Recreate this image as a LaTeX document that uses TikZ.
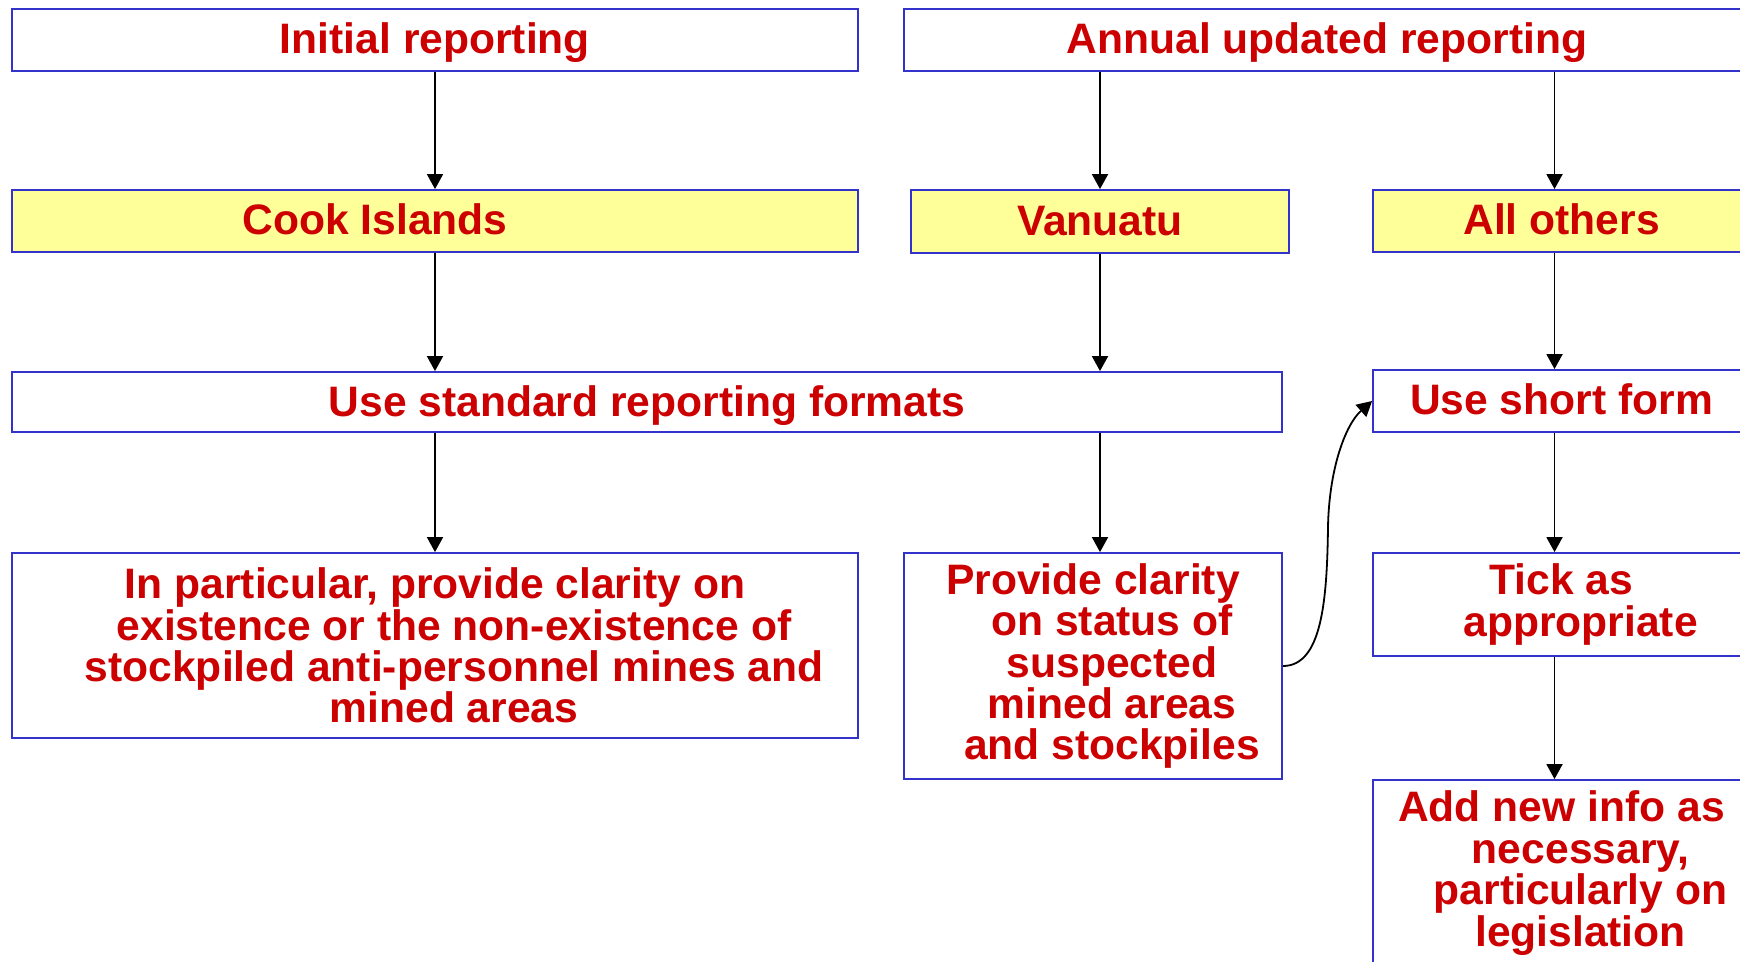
\documentclass[tikz,border=0pt]{standalone}
\usepackage{fontspec}
\setmainfont{Liberation Sans}
\usepackage{xcolor}
\usepackage{tikz}
\usetikzlibrary{arrows.meta, positioning}
\definecolor{rbblue}{RGB}{51, 51, 204}
\definecolor{rbred}{RGB}{204, 0, 0}
\definecolor{rbyellow}{RGB}{255, 255, 153}
\newcommand{\nudge}{\hspace*{19pt}}

\begin{document}
\begin{tikzpicture}[
    x=0.5pt, y=-0.5pt,
    box/.style={
        rectangle, draw=rbblue, line width=0.9pt, fill=white,
        text=rbred, align=center, inner sep=0pt,
        font=\bfseries\fontsize{21.3}{20.7}\selectfont
    },
    oneline/.style={box, text height=17pt, text depth=3pt},
    country/.style={oneline, fill=rbyellow},
    arr/.style={-{Triangle[length=7.5pt, width=8pt]}, line width=0.9pt, black}
]
\path[use as bounding box, clip] (0,0) rectangle (1740,962);

% top row
\node[oneline, minimum width=423pt, minimum height=31pt] (init) at (435,40) {Initial reporting};
\node[oneline, minimum width=423pt, minimum height=31pt] (annual) at (1327,40) {Annual updated reporting};

% countries
\node[country, minimum width=423pt, minimum height=31pt] (cook) at (435,221) {Cook Islands\hspace*{60pt}\mbox{}};
\node[country, minimum width=189pt, minimum height=31.5pt] (vanuatu) at (1100,221.5) {Vanuatu};
\node[country, minimum width=188.5pt, minimum height=31pt] (others) at (1561.5,221) {All others};

% formats
\node[oneline, minimum width=635pt, minimum height=30pt] (std) at (647,402) {Use standard reporting formats};
\node[oneline, minimum width=188.5pt, minimum height=31pt] (short) at (1561.5,401) {Use short form};

% details
\node[box, minimum width=423pt, minimum height=92.5pt] (partic) at (435,645.5) {In particular, provide clarity on\\ \nudge existence or the non-existence of\\ \nudge stockpiled anti-personnel mines and\\ \nudge mined areas};
\node[box, minimum width=189pt, minimum height=113pt] (clarity) at (1093,666) {Provide clarity\\ \nudge on status of\\ \nudge suspected\\ \nudge mined areas\\ \nudge and stockpiles};
\node[box, minimum width=188.5pt, minimum height=51.5pt] (tick) at (1561.5,604.5) {Tick as\\ \nudge appropriate};
\node[box, minimum width=188.5pt, minimum height=93pt] (addinfo) at (1561.5,873) {Add new info as\\ \nudge necessary,\\ \nudge particularly on\\ \nudge legislation};

\coordinate (bend) at (1328,527);

\draw[arr] (init) -- (cook);
\draw[arr] (vanuatu |- annual.south) -- (vanuatu);
\draw[arr] ([xshift=-3.5pt]others |- annual.south) -- ([xshift=-3.5pt]others.north);
\draw[arr] (cook) -- (cook |- std.north);
\draw[arr] (vanuatu) -- (vanuatu |- std.north);
\draw[arr] ([xshift=-3.5pt]others.south) -- ([xshift=-3.5pt]short.north);
\draw[arr] (partic |- std.south) -- (partic);
\draw[arr] (vanuatu |- std.south) -- (vanuatu |- clarity.north);
\draw[arr] ([xshift=-3.5pt]short.south) -- ([xshift=-3.5pt]tick.north);
\draw[arr] ([xshift=-3.5pt]tick.south) -- ([xshift=-3.5pt]addinfo.north);
\draw[arr] (clarity.east) .. controls (1322,666) and (1327,600) .. (bend)
    .. controls (1329,470) and (1345,425) .. (short.west);

\end{tikzpicture}
\end{document}
